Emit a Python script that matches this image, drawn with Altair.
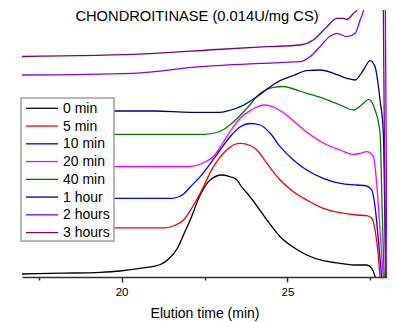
import altair as alt
import pandas as pd

FONT = "Liberation Sans"
title_text = "CHONDROITINASE (0.014U/mg CS)"

series_names = ["0 min", "5 min", "10 min", "20 min", "40 min", "1 hour", "2 hours", "3 hours"]
series_colors = ["#000000", "#ff0000", "#0000ff", "#ff00ff", "#008000", "#000080", "#8000ff", "#800080"]

t_0min = [17.0, 18.2, 19.36, 19.96, 20.6, 21.17, 21.45, 21.67, 21.92, 22.07, 22.37, 22.67, 23.02, 23.3, 23.48,
          23.58, 23.88, 24.08, 24.38, 24.78, 25.18, 25.58, 26.08, 26.59, 27.09, 27.39, 27.54, 27.64, 27.7]
y_0min = [3, 3.8, 4.7, 6, 8.8, 12.5, 19, 28, 46, 57, 82, 97, 102, 100, 97,
          92, 80, 71, 57, 40.3, 29.7, 22, 16.3, 13.7, 12, 12, 8.7, 0.3, -10]

t_5min = [17.0, 21.3, 21.6, 21.87, 22.1, 22.37, 22.77, 23.17, 23.4, 23.58, 23.88, 24.08, 24.38, 24.78, 25.18,
          25.58, 26.08, 26.59, 27.09, 27.39, 27.54, 27.64, 27.74, 27.79, 27.82]
y_5min = [49.2, 49.2, 51.5, 57, 68, 83.7, 110.3, 127, 132.5, 133.7, 131.5, 127, 113.7, 97, 85.3,
          77, 68.7, 64.3, 62, 61.3, 58.7, 47, 20.3, 0, -10]

t_10min = [17.0, 21.5, 21.7, 21.87, 22.07, 22.37, 22.57, 22.97, 23.27, 23.58, 23.88, 24.18, 24.48, 24.78,
           25.18, 25.58, 26.08, 26.59, 27.09, 27.39, 27.54, 27.64, 27.74, 27.84, 27.87]
y_10min = [78.7, 78.7, 80, 83, 90, 100.3, 108.7, 127, 140.3, 150.3, 153.5, 152, 143.7, 130.3,
           117, 107, 98.7, 93.7, 92, 91, 87, 70.3, 37, 0, -10]

t_20min = [17.0, 22.0, 22.3, 22.57, 22.77, 23.07, 23.3, 23.58, 23.88, 24.08, 24.3, 24.58, 24.78, 25.08,
           25.58, 26.08, 26.59, 26.99, 27.19, 27.39, 27.59, 27.68, 27.79, 27.89, 27.92]
y_20min = [110.3, 110.5, 112, 116, 120.5, 135, 147, 159, 166.5, 170, 172, 170, 166.5, 159,
           145, 134, 127, 122.7, 123.5, 125.3, 120.3, 97, 47, 0, -10]

t_40min = [17.0, 22.5, 22.87, 23.1, 23.37, 23.78, 24.18, 24.58, 24.88, 25.08, 25.58, 26.08, 26.59, 26.99,
           27.29, 27.44, 27.64, 27.79, 27.86, 27.92, 27.95]
y_40min = [142.7, 142.7, 144.5, 148, 155, 168.7, 183.7, 189.7, 190.5, 189, 183.7, 178.7, 172, 167,
           173.7, 177.7, 167, 144, 60, 0, -10]

t_1hour = [17.0, 21.0, 22.07, 22.97, 23.3, 23.58, 24.08, 24.48, 24.78, 25.08, 25.18, 25.58, 25.98, 26.39,
           26.79, 27.04, 27.29, 27.49, 27.64, 27.79, 27.89, 27.97, 28.0]
y_1hour = [166, 166, 164.7, 164.7, 167, 170.3, 180.3, 190.3, 196.3, 200.3, 201.5, 206.3, 207, 203.7,
           198.7, 197, 207, 216.3, 210.3, 177, 144, 0, -10]

t_2hours = [17.0, 20.35, 22.37, 24.18, 25.38, 25.68, 25.98, 26.29, 26.49, 26.79, 27.04, 27.19, 27.29,
            27.45, 27.7, 27.9, 27.95, 28.0]
y_2hours = [202, 203.7, 210.3, 213.7, 215.3, 220.3, 230.3, 241, 243.7, 240.3, 243.7, 257, 267,
            420, 520, 420, 267, 0]

t_3hours = [17.0, 20.86, 22.87, 24.38, 25.38, 25.78, 26.19, 26.49, 26.69, 26.79, 26.99, 27.09,
            27.25, 27.5, 27.8, 27.89, 27.96, 28.0]
y_3hours = [220.5, 223.3, 227.5, 230.3, 232, 237, 250.3, 258.7, 258.7, 257.5, 263.7, 267,
            400, 520, 420, 267, 0, -20]

all_t = [t_0min, t_5min, t_10min, t_20min, t_40min, t_1hour, t_2hours, t_3hours]
all_y = [y_0min, y_5min, y_10min, y_20min, y_40min, y_1hour, y_2hours, y_3hours]

frames = []
for i, (name, ts, ys) in enumerate(zip(series_names, all_t, all_y)):
    frames.append(pd.DataFrame({"t": ts, "y": ys, "series": name, "idx": i}))
df = pd.concat(frames, ignore_index=True)

color_scale = alt.Scale(domain=series_names, range=series_colors)

lines = alt.Chart(df).mark_line(clip=True, strokeWidth=1.3, interpolate="monotone").encode(
    x=alt.X("t:Q", scale=alt.Scale(domain=[17, 28], nice=False, zero=False),
            axis=alt.Axis(values=[17.5, 20, 22.5, 25, 27.5],
                          labelExpr="datum.value % 5 == 0 ? datum.label : ''",
                          title="Elution time (min)", grid=False,
                          tickSize={"condition": {"test": "datum.value % 5 === 0", "value": 5}, "value": 3},
                          labelPadding=4, titlePadding=9)),
    y=alt.Y("y:Q", scale=alt.Scale(domain=[0, 267], nice=False, zero=False), axis=None),
    color=alt.Color("series:N", scale=color_scale, legend=None),
    detail="series:N",
    order="idx:Q",
)

# hand-drawn legend box (Origin style)
legend_df = pd.DataFrame({"series": series_names, "row": list(range(len(series_names)))})
row_scale = alt.Scale(domain=[0, 7], range=[98.3, 222.6])

legend_box = alt.Chart(pd.DataFrame({"a": [0]})).mark_rect(
    fill="white", stroke="#a0a0a0", strokeWidth=1.5).encode(
    x=alt.value(-1), x2=alt.value(92), y=alt.value(88), y2=alt.value(231))

legend_rules = alt.Chart(legend_df).mark_rule(strokeWidth=1.3).encode(
    x=alt.value(4), x2=alt.value(36),
    y=alt.Y("row:Q", scale=row_scale, axis=None),
    color=alt.Color("series:N", scale=color_scale, legend=None))

legend_text = alt.Chart(legend_df).mark_text(
    font=FONT, fontSize=14, align="left", baseline="middle", color="black", dy=0.5).encode(
    x=alt.value(41),
    y=alt.Y("row:Q", scale=row_scale, axis=None),
    text="series:N")

title_df = pd.DataFrame({"label": [title_text]})
title = alt.Chart(title_df).mark_text(font=FONT, fontSize=14.7, align="center", baseline="middle",
                                      color="black").encode(
    x=alt.value(175), y=alt.value(7), text="label:N")

chart = alt.layer(lines, legend_box, legend_rules, legend_text, title).resolve_scale(
    y="independent"
).properties(
    width=365, height=267,
    autosize=alt.AutoSizeParams(type="none"),
    padding={"left": 14, "top": 2, "right": 0, "bottom": 45},
).configure_view(stroke=None).configure_axis(
    labelFont=FONT, titleFont=FONT, labelFontSize=11.5, titleFontSize=14, titleFontWeight="normal",
    labelColor="black", titleColor="black", domainColor="#333333", tickColor="#333333",
    domainWidth=1.5, tickWidth=1.5,
)

chart.save("out.html", embed_options={"renderer": "svg", "actions": False})
